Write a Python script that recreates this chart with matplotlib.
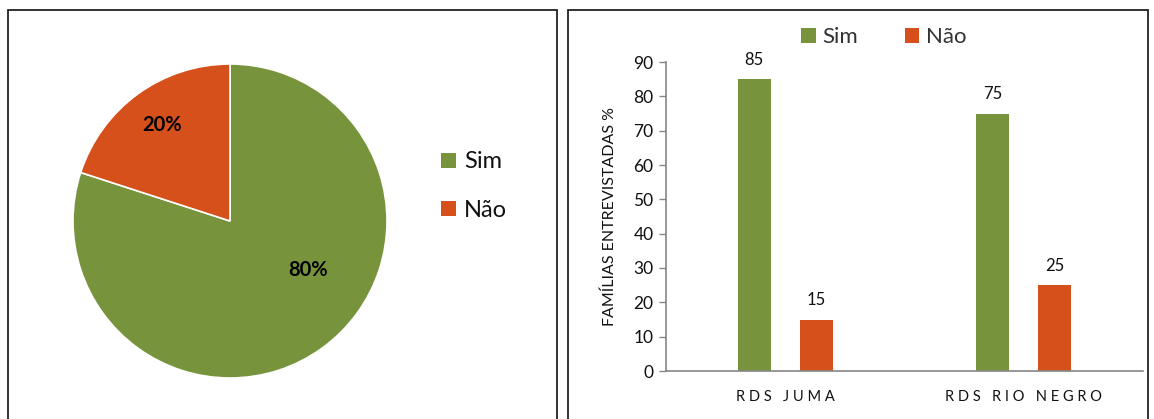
import matplotlib
matplotlib.use("Agg")
import matplotlib.pyplot as plt
from matplotlib.patches import Rectangle, Patch

plt.rcParams['font.family'] = ['Lato', 'DejaVu Sans']

# Pie: overall answer share
pie_labels = ["Sim", "Não"]
pie_values = [80, 20]

# Bars: answers per reserve (% of families interviewed)
reserves = ["RDS JUMA", "RDS RIO NEGRO"]
sim_values = [85, 75]
nao_values = [15, 25]
y_ticks = [0, 10, 20, 30, 40, 50, 60, 70, 80, 90]

GREEN = "#77933C"
ORANGE = "#D5501A"
TEXT = "#111111"

W, H = 1154, 419
fig = plt.figure(figsize=(W / 100, H / 100), dpi=100)

def fx(px):
    return px / W

def fy(py):
    return 1 - py / H

# Panel frames
fig.patches.append(Rectangle((fx(8), fy(430)), fx(557) - fx(8), fy(10) - fy(430),
                             transform=fig.transFigure, fill=False,
                             edgecolor="#222222", linewidth=1.3))
fig.patches.append(Rectangle((fx(568), fy(430)), fx(1148) - fx(568), fy(10) - fy(430),
                             transform=fig.transFigure, fill=False,
                             edgecolor="#222222", linewidth=1.3))

# ---- Pie chart ----
axp = fig.add_axes([fx(73), fy(378), fx(387) - fx(73), fy(64) - fy(378)])
wedges, texts, autotexts = axp.pie(
    pie_values, colors=[GREEN, ORANGE], startangle=90, counterclock=False,
    radius=1.0, autopct="%d%%", pctdistance=0.75,
    wedgeprops=dict(edgecolor="white", linewidth=1.2),
    textprops=dict(fontsize=14.5, fontweight="bold", color="black"))
autotexts[0].set_position((0.50, -0.31))
autotexts[1].set_position((-0.43, 0.61))
axp.set_xlim(-1.0, 1.0)
axp.set_ylim(-1.0, 1.0)
axp.set_aspect("equal")
axp.axis("off")

fig.legend(handles=[Patch(facecolor=GREEN, label=pie_labels[0]),
                    Patch(facecolor=ORANGE, label=pie_labels[1])],
           loc="center left", bbox_to_anchor=(fx(432), fy(186)),
           frameon=False, fontsize=17, handlelength=0.6, handleheight=0.6,
           handletextpad=0.35, labelspacing=1.15, labelcolor=TEXT,
           borderaxespad=0)

# ---- Bar chart ----
axb = fig.add_axes([fx(666), fy(371), fx(1143) - fx(666), fy(62) - fy(371)])
x = list(range(len(reserves)))
bw = 0.138
off = 0.13
b1 = axb.bar([i - off for i in x], sim_values, width=bw, color=GREEN, label="Sim")
b2 = axb.bar([i + off for i in x], nao_values, width=bw, color=ORANGE, label="Não")
for bars in (b1, b2):
    axb.bar_label(bars, labels=[f"{v:g}" for v in bars.datavalues],
                  padding=8, fontsize=12, color=TEXT)

axb.set_xlim(-0.5, 1.5)
axb.set_ylim(0, 90)
axb.set_yticks(y_ticks)
axb.set_xticks(x)
axb.set_xticklabels([" ".join(r) for r in reserves], fontsize=10.5, color=TEXT)
axb.tick_params(axis="x", length=0, pad=14)
axb.tick_params(axis="y", length=5, width=1, color="#868686",
                labelsize=12.5, labelcolor=TEXT, pad=4)
for s in ("top", "right"):
    axb.spines[s].set_visible(False)
for s in ("left", "bottom"):
    axb.spines[s].set_color("#868686")
    axb.spines[s].set_linewidth(1.2)
axb.set_ylabel("FAMÍLIAS ENTREVISTADAS %", fontsize=11.5, color=TEXT, labelpad=12)

fig.legend(handles=[Patch(facecolor=GREEN, label="Sim"),
                    Patch(facecolor=ORANGE, label="Não")],
           loc="center", bbox_to_anchor=(fx(884), fy(37)), ncol=2,
           frameon=False, fontsize=16, handlelength=0.65, handleheight=0.65,
           handletextpad=0.3, columnspacing=2.1, labelcolor="#333333",
           borderaxespad=0)

fig.savefig("out.png", dpi=100, facecolor="white")
